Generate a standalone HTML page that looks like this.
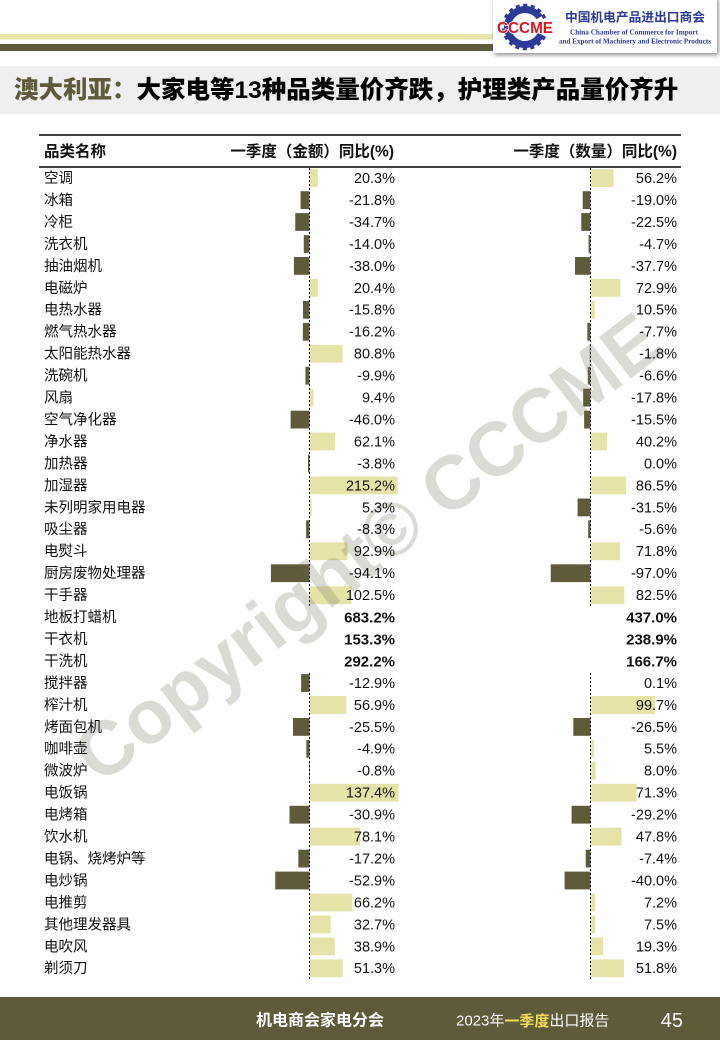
<!DOCTYPE html>
<html><head><meta charset="utf-8"><style>
html,body{margin:0;padding:0;background:#fff;}
svg{display:block;}
text{font-family:"Liberation Sans","Noto Sans CJK SC",sans-serif;}
</style></head><body>
<svg width="720" height="1040" viewBox="0 0 720 1040" xmlns="http://www.w3.org/2000/svg">
<defs>
<filter id="sh" x="-10%" y="-20%" width="120%" height="160%"><feDropShadow dx="1.5" dy="2" stdDeviation="2" flood-color="#000" flood-opacity="0.45"/></filter>
</defs>
<!-- stripes -->
<rect x="0" y="34" width="500" height="5.5" fill="#e6e4a8"/>
<rect x="0" y="44" width="500" height="7" fill="#5e5a3a"/>
<!-- logo box -->
<rect x="493" y="-3" width="224" height="56" fill="#fff" filter="url(#sh)"/>
<g>
<circle cx="525" cy="27" r="17.5" fill="none" stroke="#2b3a94" stroke-width="7" stroke-dasharray="92 18" transform="rotate(25 525 27)"/>
<circle cx="525" cy="27" r="21.5" fill="none" stroke="#2b3a94" stroke-width="3.5" stroke-dasharray="4 3.5" transform="rotate(25 525 27)"/>
<rect x="541" y="22" width="14" height="12" fill="#fff"/>
<text x="497" y="33" font-size="16" font-weight="bold" fill="#d7191f" stroke="#fff" stroke-width="1.5" paint-order="stroke" textLength="56" lengthAdjust="spacingAndGlyphs">CCCME</text>
</g>
<text x="565" y="21.5" font-size="12.5" font-weight="bold" fill="#2b3a94" textLength="140" lengthAdjust="spacingAndGlyphs">中国机电产品进出口商会</text>
<text x="634" y="34.5" font-size="7.2" font-weight="bold" fill="#2b3a94" text-anchor="middle" style="font-family:'Liberation Serif',serif" textLength="128" lengthAdjust="spacingAndGlyphs">China Chamber of Commerce for Import</text>
<text x="635" y="43.5" font-size="7.2" font-weight="bold" fill="#2b3a94" text-anchor="middle" style="font-family:'Liberation Serif',serif" textLength="152" lengthAdjust="spacingAndGlyphs">and Export of Machinery and Electronic Products</text>
<!-- title -->
<rect x="0" y="66" width="720" height="48" fill="#efefef"/>
<text x="14" y="90" dominant-baseline="central" font-size="24.5" font-weight="900"><tspan fill="#5e5a3a">澳大利亚：</tspan><tspan fill="#000">大家电等13种品类量价齐跌，护理类产品量价齐升</tspan></text>
<!-- table lines -->
<line x1="39" y1="135" x2="681" y2="135" stroke="#000" stroke-width="1.5"/>
<line x1="39" y1="167" x2="681" y2="167" stroke="#000" stroke-width="1.5"/>
<g font-size="15.5" font-weight="bold" fill="#111" dominant-baseline="central">
<text x="44" y="152">品类名称</text>
<text x="394" y="152" text-anchor="end">一季度（金额）同比(%)</text>
<text x="677" y="152" text-anchor="end">一季度（数量）同比(%)</text>
</g>
<!-- bars -->
<g fill="#e5e3a8">
<rect x="309.5" y="169.2" width="8.32" height="17.8"/>
<rect x="309.5" y="279" width="8.36" height="17.8"/>
<rect x="309.5" y="344.8" width="33.13" height="17.8"/>
<rect x="309.5" y="388.7" width="3.85" height="17.8"/>
<rect x="309.5" y="432.6" width="25.46" height="17.8"/>
<rect x="309.5" y="476.5" width="88.23" height="17.8"/>
<rect x="309.5" y="498.5" width="2.17" height="17.8"/>
<rect x="309.5" y="542.4" width="38.09" height="17.8"/>
<rect x="309.5" y="586.3" width="42.03" height="17.8"/>
<rect x="309.5" y="696" width="36.87" height="17.8"/>
<rect x="309.5" y="783.8" width="89.04" height="17.8"/>
<rect x="309.5" y="827.7" width="50.61" height="17.8"/>
<rect x="309.5" y="893.6" width="42.9" height="17.8"/>
<rect x="309.5" y="915.5" width="21.19" height="17.8"/>
<rect x="309.5" y="937.5" width="25.21" height="17.8"/>
<rect x="309.5" y="959.4" width="33.24" height="17.8"/>
<rect x="590.5" y="169.2" width="23.04" height="17.8"/>
<rect x="590.5" y="279" width="29.89" height="17.8"/>
<rect x="590.5" y="300.9" width="4.31" height="17.8"/>
<rect x="590.5" y="432.6" width="16.48" height="17.8"/>
<rect x="590.5" y="476.5" width="35.47" height="17.8"/>
<rect x="590.5" y="542.4" width="29.44" height="17.8"/>
<rect x="590.5" y="586.3" width="33.83" height="17.8"/>
<rect x="590.5" y="696" width="64.61" height="17.8"/>
<rect x="590.5" y="739.9" width="3.56" height="17.8"/>
<rect x="590.5" y="761.9" width="5.18" height="17.8"/>
<rect x="590.5" y="783.8" width="46.2" height="17.8"/>
<rect x="590.5" y="827.7" width="30.97" height="17.8"/>
<rect x="590.5" y="893.6" width="4.67" height="17.8"/>
<rect x="590.5" y="915.5" width="4.86" height="17.8"/>
<rect x="590.5" y="937.5" width="12.51" height="17.8"/>
<rect x="590.5" y="959.4" width="33.57" height="17.8"/>
</g>
<g fill="#5e5a3a">
<rect x="300.56" y="191.2" width="8.94" height="17.8"/>
<rect x="295.27" y="213.1" width="14.23" height="17.8"/>
<rect x="303.76" y="235.1" width="5.74" height="17.8"/>
<rect x="293.92" y="257" width="15.58" height="17.8"/>
<rect x="303.02" y="300.9" width="6.48" height="17.8"/>
<rect x="302.86" y="322.9" width="6.64" height="17.8"/>
<rect x="305.44" y="366.8" width="4.06" height="17.8"/>
<rect x="290.64" y="410.7" width="18.86" height="17.8"/>
<rect x="307.94" y="454.6" width="1.56" height="17.8"/>
<rect x="306.1" y="520.4" width="3.4" height="17.8"/>
<rect x="270.92" y="564.3" width="38.58" height="17.8"/>
<rect x="301.14" y="674.1" width="8.36" height="17.8"/>
<rect x="292.98" y="718" width="16.52" height="17.8"/>
<rect x="306.32" y="739.9" width="3.18" height="17.8"/>
<rect x="308.98" y="761.9" width="0.52" height="17.8"/>
<rect x="289.48" y="805.8" width="20.02" height="17.8"/>
<rect x="298.35" y="849.7" width="11.15" height="17.8"/>
<rect x="275.22" y="871.6" width="34.28" height="17.8"/>
<rect x="582.71" y="191.2" width="7.79" height="17.8"/>
<rect x="581.27" y="213.1" width="9.23" height="17.8"/>
<rect x="588.57" y="235.1" width="1.93" height="17.8"/>
<rect x="575.04" y="257" width="15.46" height="17.8"/>
<rect x="587.34" y="322.9" width="3.16" height="17.8"/>
<rect x="589.76" y="344.8" width="0.74" height="17.8"/>
<rect x="587.79" y="366.8" width="2.71" height="17.8"/>
<rect x="583.2" y="388.7" width="7.3" height="17.8"/>
<rect x="584.14" y="410.7" width="6.36" height="17.8"/>
<rect x="577.58" y="498.5" width="12.92" height="17.8"/>
<rect x="588.2" y="520.4" width="2.3" height="17.8"/>
<rect x="550.73" y="564.3" width="39.77" height="17.8"/>
<rect x="573.33" y="718" width="17.17" height="17.8"/>
<rect x="571.58" y="805.8" width="18.92" height="17.8"/>
<rect x="585.7" y="849.7" width="4.8" height="17.8"/>
<rect x="564.58" y="871.6" width="25.92" height="17.8"/>
</g>
<!-- dashed axes -->
<g stroke="#000" stroke-width="1" stroke-dasharray="2 2">
<line x1="309.5" y1="168" x2="309.5" y2="607"/>
<line x1="309.5" y1="673" x2="309.5" y2="980"/>
<line x1="590.5" y1="168" x2="590.5" y2="607"/>
<line x1="590.5" y1="673" x2="590.5" y2="980"/>
</g>
<!-- watermark -->
<text x="368" y="548" font-size="76" font-weight="bold" fill="#6e6e5a" fill-opacity="0.25" text-anchor="middle" dominant-baseline="central" transform="rotate(-37.5 368 548)">Copyright© CCCME</text>
<!-- row labels -->
<g font-size="14.5" fill="#111" dominant-baseline="central">
<text x="44" y="179">空调</text>
<text x="44" y="200.95">冰箱</text>
<text x="44" y="222.9">冷柜</text>
<text x="44" y="244.85">洗衣机</text>
<text x="44" y="266.8">抽油烟机</text>
<text x="44" y="288.75">电磁炉</text>
<text x="44" y="310.7">电热水器</text>
<text x="44" y="332.65">燃气热水器</text>
<text x="44" y="354.6">太阳能热水器</text>
<text x="44" y="376.55">洗碗机</text>
<text x="44" y="398.5">风扇</text>
<text x="44" y="420.45">空气净化器</text>
<text x="44" y="442.4">净水器</text>
<text x="44" y="464.35">加热器</text>
<text x="44" y="486.3">加湿器</text>
<text x="44" y="508.25">未列明家用电器</text>
<text x="44" y="530.2">吸尘器</text>
<text x="44" y="552.15">电熨斗</text>
<text x="44" y="574.1">厨房废物处理器</text>
<text x="44" y="596.05">干手器</text>
<text x="44" y="618">地板打蜡机</text>
<text x="44" y="639.95">干衣机</text>
<text x="44" y="661.9">干洗机</text>
<text x="44" y="683.85">搅拌器</text>
<text x="44" y="705.8">榨汁机</text>
<text x="44" y="727.75">烤面包机</text>
<text x="44" y="749.7">咖啡壶</text>
<text x="44" y="771.65">微波炉</text>
<text x="44" y="793.6">电饭锅</text>
<text x="44" y="815.55">电烤箱</text>
<text x="44" y="837.5">饮水机</text>
<text x="44" y="859.45">电锅、烧烤炉等</text>
<text x="44" y="881.4">电炒锅</text>
<text x="44" y="903.35">电推剪</text>
<text x="44" y="925.3">其他理发器具</text>
<text x="44" y="947.25">电吹风</text>
<text x="44" y="969.2">剃须刀</text>
</g>
<!-- left values -->
<g font-size="14.5" fill="#111" dominant-baseline="central" text-anchor="end">
<text x="395" y="179">20.3%</text>
<text x="395" y="200.95">-21.8%</text>
<text x="395" y="222.9">-34.7%</text>
<text x="395" y="244.85">-14.0%</text>
<text x="395" y="266.8">-38.0%</text>
<text x="395" y="288.75">20.4%</text>
<text x="395" y="310.7">-15.8%</text>
<text x="395" y="332.65">-16.2%</text>
<text x="395" y="354.6">80.8%</text>
<text x="395" y="376.55">-9.9%</text>
<text x="395" y="398.5">9.4%</text>
<text x="395" y="420.45">-46.0%</text>
<text x="395" y="442.4">62.1%</text>
<text x="395" y="464.35">-3.8%</text>
<text x="395" y="486.3">215.2%</text>
<text x="395" y="508.25">5.3%</text>
<text x="395" y="530.2">-8.3%</text>
<text x="395" y="552.15">92.9%</text>
<text x="395" y="574.1">-94.1%</text>
<text x="395" y="596.05">102.5%</text>
<text x="395" y="618" font-weight="bold" font-size="15">683.2%</text>
<text x="395" y="639.95" font-weight="bold" font-size="15">153.3%</text>
<text x="395" y="661.9" font-weight="bold" font-size="15">292.2%</text>
<text x="395" y="683.85">-12.9%</text>
<text x="395" y="705.8">56.9%</text>
<text x="395" y="727.75">-25.5%</text>
<text x="395" y="749.7">-4.9%</text>
<text x="395" y="771.65">-0.8%</text>
<text x="395" y="793.6">137.4%</text>
<text x="395" y="815.55">-30.9%</text>
<text x="395" y="837.5">78.1%</text>
<text x="395" y="859.45">-17.2%</text>
<text x="395" y="881.4">-52.9%</text>
<text x="395" y="903.35">66.2%</text>
<text x="395" y="925.3">32.7%</text>
<text x="395" y="947.25">38.9%</text>
<text x="395" y="969.2">51.3%</text>
</g>
<!-- right values -->
<g font-size="14.5" fill="#111" dominant-baseline="central" text-anchor="end">
<text x="677" y="179">56.2%</text>
<text x="677" y="200.95">-19.0%</text>
<text x="677" y="222.9">-22.5%</text>
<text x="677" y="244.85">-4.7%</text>
<text x="677" y="266.8">-37.7%</text>
<text x="677" y="288.75">72.9%</text>
<text x="677" y="310.7">10.5%</text>
<text x="677" y="332.65">-7.7%</text>
<text x="677" y="354.6">-1.8%</text>
<text x="677" y="376.55">-6.6%</text>
<text x="677" y="398.5">-17.8%</text>
<text x="677" y="420.45">-15.5%</text>
<text x="677" y="442.4">40.2%</text>
<text x="677" y="464.35">0.0%</text>
<text x="677" y="486.3">86.5%</text>
<text x="677" y="508.25">-31.5%</text>
<text x="677" y="530.2">-5.6%</text>
<text x="677" y="552.15">71.8%</text>
<text x="677" y="574.1">-97.0%</text>
<text x="677" y="596.05">82.5%</text>
<text x="677" y="618" font-weight="bold" font-size="15">437.0%</text>
<text x="677" y="639.95" font-weight="bold" font-size="15">238.9%</text>
<text x="677" y="661.9" font-weight="bold" font-size="15">166.7%</text>
<text x="677" y="683.85">0.1%</text>
<text x="677" y="705.8">99.7%</text>
<text x="677" y="727.75">-26.5%</text>
<text x="677" y="749.7">5.5%</text>
<text x="677" y="771.65">8.0%</text>
<text x="677" y="793.6">71.3%</text>
<text x="677" y="815.55">-29.2%</text>
<text x="677" y="837.5">47.8%</text>
<text x="677" y="859.45">-7.4%</text>
<text x="677" y="881.4">-40.0%</text>
<text x="677" y="903.35">7.2%</text>
<text x="677" y="925.3">7.5%</text>
<text x="677" y="947.25">19.3%</text>
<text x="677" y="969.2">51.8%</text>
</g>
<!-- footer -->
<rect x="0" y="997" width="720" height="43" fill="#5e5a3a"/>
<text x="256" y="1021" font-size="16" font-weight="bold" fill="#fff" dominant-baseline="central">机电商会家电分会</text>
<text x="456" y="1021" font-size="15" fill="#fff" dominant-baseline="central">2023年<tspan font-weight="bold" fill="#f3dc5c">一季度</tspan>出口报告</text>
<text x="683" y="1021" font-size="20" fill="#fff" text-anchor="end" dominant-baseline="central">45</text>
</svg>
</body></html>
